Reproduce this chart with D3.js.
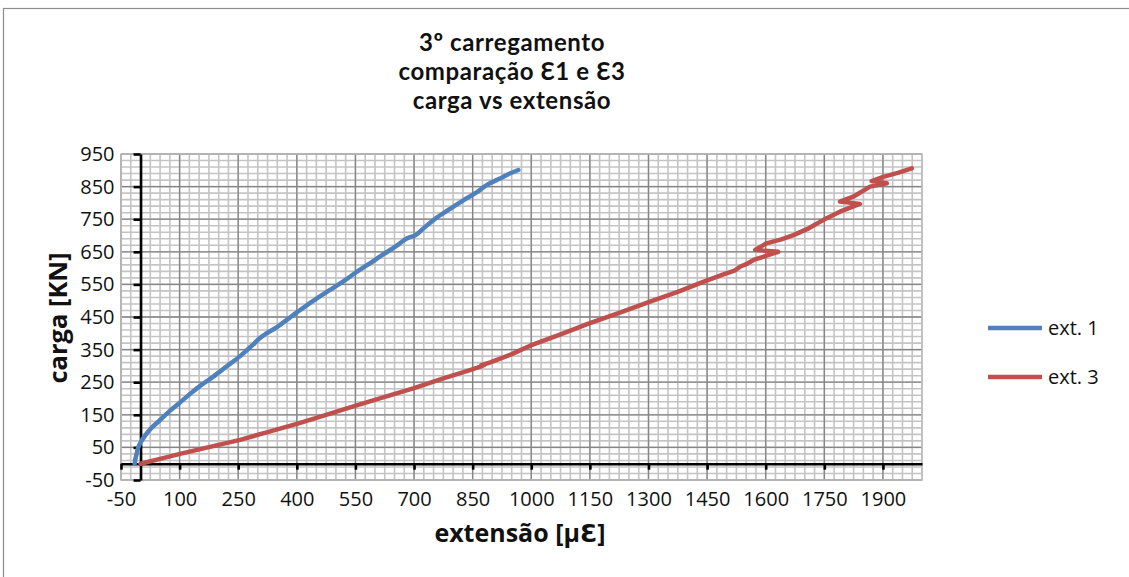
<!DOCTYPE html>
<html>
<head>
<meta charset="utf-8">
<script src="https://cdn.jsdelivr.net/npm/d3@7"></script>
<style>
  html, body { margin: 0; padding: 0; background: #fff; }
  svg { display: block; font-family: "Open Sans", "DejaVu Sans", sans-serif; }
</style>
</head>
<body>
<svg id="chart" width="1129" height="577"></svg>
<script>
// Load (kN) vs strain (µε) for gauges 1 and 3, third loading cycle
const titleLines = ["3º carregamento", "comparação Ɛ1 e Ɛ3", "carga vs extensão"];
const xLabel = "extensão [µƐ]";
const yLabel = "carga [KN]";
const seriesNames = ["ext. 1", "ext. 3"];

const ext1Strain = [-15, -13, -10, -6, 0, 8, 16, 30, 50, 75, 101, 125, 144, 165, 186, 220, 255, 285, 305, 320, 350, 400, 440, 485, 520, 553, 590, 621, 655, 680, 705, 730, 758, 790, 826, 860, 880, 894, 920, 945, 967];
const ext1Load   = [0, 15, 30, 50, 65, 80, 93, 112, 134, 162, 188, 212, 231, 249, 267, 298, 330, 362, 385, 398, 420, 464, 498, 533, 560, 588, 617, 642, 668, 690, 702, 728, 755, 780, 808, 832, 850, 860, 875, 890, 901];

const ext3Strain = [0, 50, 101, 175, 255, 325, 400, 475, 553, 625, 698, 775, 845, 868, 880, 872, 895, 950, 997, 1075, 1150, 1225, 1304, 1375, 1440, 1490, 1520, 1534, 1550, 1569, 1632, 1573, 1602, 1640, 1671, 1710, 1748, 1790, 1841, 1790, 1824, 1867, 1910, 1871, 1901, 1940, 1974];
const ext3Load   = [0, 15, 30, 51, 73, 97, 122, 150, 179, 205, 231, 262, 288, 297, 303, 302, 311, 336, 362, 397, 431, 463, 497, 527, 558, 580, 592, 604, 612, 625, 650, 656, 676, 688, 701, 722, 748, 773, 797, 804, 819, 850, 860, 867, 880, 893, 906];

const xTicks = d3.range(-50, 1901, 150);
const yTicks = d3.range(-50, 951, 100);
const xMinor = d3.range(-50, 2001, 25);
const yMinor = d3.range(-50, 951, 20);

const colors = ["#4F81BD", "#C0504D"];

const svg = d3.select("#chart");

// chart frame
svg.append("rect")
  .attr("x", 3.5).attr("y", 8.5)
  .attr("width", 1140).attr("height", 600)
  .attr("fill", "#fff").attr("stroke", "#8c8c8c").attr("stroke-width", 1.2);

const x = d3.scaleLinear().domain([-50, 2000]).range([121, 922]);
const y = d3.scaleLinear().domain([-50, 950]).range([480, 154]);

const plot = svg.append("g");

// minor grid
plot.append("g").selectAll("line").data(xMinor).join("line")
  .attr("x1", d => x(d)).attr("x2", d => x(d))
  .attr("y1", y(-50)).attr("y2", y(950))
  .attr("stroke", "#c4c4c4").attr("stroke-width", 1.6);
plot.append("g").selectAll("line").data(yMinor).join("line")
  .attr("y1", d => y(d)).attr("y2", d => y(d))
  .attr("x1", x(-50)).attr("x2", x(2000))
  .attr("stroke", "#c4c4c4").attr("stroke-width", 1.6);

// major grid
plot.append("g").selectAll("line").data(xTicks).join("line")
  .attr("x1", d => x(d)).attr("x2", d => x(d))
  .attr("y1", y(-50)).attr("y2", y(950))
  .attr("stroke", "#858585").attr("stroke-width", 1.3);
plot.append("g").selectAll("line").data(yTicks).join("line")
  .attr("y1", d => y(d)).attr("y2", d => y(d))
  .attr("x1", x(-50)).attr("x2", x(2000))
  .attr("stroke", "#858585").attr("stroke-width", 1.3);

// plot area border
plot.append("rect")
  .attr("x", x(-50)).attr("y", y(950))
  .attr("width", x(2000) - x(-50)).attr("height", y(-50) - y(950))
  .attr("fill", "none").attr("stroke", "#bdbdbd").attr("stroke-width", 1.5);

// axes crossing at zero
const fmt = d => String(d);
const yAxis = d3.axisLeft(y).tickValues(yTicks).tickFormat(fmt)
  .tickSize(7).tickSizeOuter(0).tickPadding(19);
const yAxisG = svg.append("g").attr("transform", `translate(${x(0)},0)`).call(yAxis);

const xAxis = d3.axisBottom(x).tickValues(xTicks).tickFormat(fmt)
  .tickSize(6).tickSizeOuter(0).tickPadding(22);
const xAxisG = svg.append("g").attr("transform", `translate(0,${y(0)})`).call(xAxis);

[yAxisG, xAxisG].forEach(g => {
  g.select(".domain").attr("stroke", "#000").attr("stroke-width", 2.6);
  g.selectAll(".tick line").attr("stroke", "#000").attr("stroke-width", 2.6);
  g.selectAll(".tick text")
    .attr("fill", "#111")
    .style("font-family", "'Open Sans', sans-serif")
    .style("font-size", "20px");
});

// series
const lineSmooth = d3.line().x(d => x(d[0])).y(d => y(d[1])).curve(d3.curveCatmullRom.alpha(0.5));
const lineRaw = d3.line().x(d => x(d[0])).y(d => y(d[1]));
const series = [
  d3.zip(ext1Strain, ext1Load),
  d3.zip(ext3Strain, ext3Load)
];
series.forEach((pts, i) => {
  svg.append("path")
    .datum(pts)
    .attr("d", i === 0 ? lineSmooth : lineRaw)
    .attr("fill", "none")
    .attr("stroke", colors[i])
    .attr("stroke-width", 4.5)
    .attr("stroke-linejoin", "round")
    .attr("stroke-linecap", "round");
});

// title
svg.append("g").selectAll("text").data(titleLines).join("text")
  .attr("x", 512).attr("y", (d, i) => 51 + i * 29)
  .attr("text-anchor", "middle")
  .style("font-family", "Lato, 'Open Sans', sans-serif")
  .style("font-size", "24px").style("font-weight", "700")
  .style("letter-spacing", "0.6px")
  .attr("fill", "#111")
  .text(d => d);

// axis titles
svg.append("text")
  .attr("x", 520).attr("y", 542)
  .attr("text-anchor", "middle")
  .style("font-size", "25px").style("font-weight", "700")
  .attr("fill", "#111")
  .text(xLabel);

svg.append("text")
  .attr("transform", "translate(67,318) rotate(-90)")
  .attr("text-anchor", "middle")
  .style("font-size", "25.5px").style("font-weight", "700")
  .attr("fill", "#111")
  .text(yLabel);

// legend
const legend = svg.append("g").selectAll("g").data(seriesNames).join("g")
  .attr("transform", (d, i) => `translate(988,${328 + i * 49})`);
legend.append("line")
  .attr("x1", 0).attr("x2", 54).attr("y1", 0).attr("y2", 0)
  .attr("stroke", (d, i) => colors[i]).attr("stroke-width", 4.5);
legend.append("text")
  .attr("x", 60).attr("y", 0).attr("dy", "0.35em")
  .style("font-size", "20px")
  .attr("fill", "#111")
  .text(d => d);
</script>
</body>
</html>
